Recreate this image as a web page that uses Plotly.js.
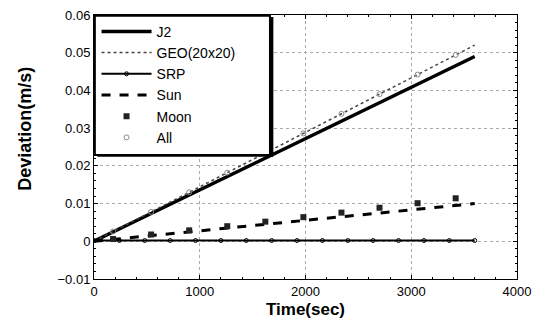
<!DOCTYPE html>
<html><head><meta charset="utf-8">
<script src="https://cdn.plot.ly/plotly-3.0.1.min.js"></script>
<style>html,body{margin:0;padding:0;background:#fff}#c{width:545px;height:322px}</style>
</head><body><div id="c"></div>
<script>
const lineTime = [0, 3600];
const j2 = [0, 0.049];
const geo = [0, 0.052];
const sunVals = [0, 0.0100];
const srpTime = [0, 240, 480, 720, 960, 1200, 1440, 1680, 1920, 2160, 2400, 2640, 2880, 3120, 3360, 3600];
const srpVals = [0.0002, 0.0002, 0.0002, 0.0002, 0.0002, 0.0002, 0.0002, 0.0002, 0.0002, 0.0002, 0.0002, 0.0002, 0.0002, 0.0002, 0.0002, 0.0002];
const moonTime = [180, 540, 900, 1260, 1620, 1980, 2340, 2700, 3060, 3420];
const moonVals = [0.0006, 0.0018, 0.0029, 0.0040, 0.0052, 0.0064, 0.0076, 0.0089, 0.0101, 0.0114];
const allTime = [180, 540, 900, 1260, 1620, 1980, 2340, 2700, 3060, 3420];
const allVals = [0.0026, 0.0078, 0.0130, 0.0182, 0.0234, 0.0286, 0.0338, 0.0390, 0.0442, 0.0494];
const names = ["J2", "GEO(20x20)", "SRP", "Sun", "Moon", "All"];
const yTitle = "<b>Deviation(m/s)</b>";
const xTitle = "<b>Time(sec)</b>";

const traces = [
  {x: lineTime, y: j2, name: names[0], mode: "lines", line: {color: "#000", width: 3.5}},
  {x: lineTime, y: geo, name: names[1], mode: "lines", line: {color: "#444", width: 1.5, dash: "dot"}},
  {x: srpTime, y: srpVals, name: names[2], mode: "lines+markers", line: {color: "#000", width: 2},
   marker: {symbol: "circle-open", size: 4, color: "#000", line: {width: 1}}},
  {x: lineTime, y: sunVals, name: names[3], mode: "lines", line: {color: "#000", width: 3, dash: "dash"}},
  {x: moonTime, y: moonVals, name: names[4], mode: "markers",
   marker: {symbol: "square", size: 6, color: "#222"}},
  {x: allTime, y: allVals, name: names[5], mode: "markers",
   marker: {symbol: "circle-open", size: 5, color: "#888", line: {width: 1}}}
];

const layout = {
  width: 545, height: 322,
  margin: {l: 94, r: 28, t: 15, b: 43},
  paper_bgcolor: "#fff", plot_bgcolor: "#fff",
  font: {family: "Liberation Sans, Arial, sans-serif", color: "#000", size: 13},
  showlegend: true,
  legend: {x: 0.006, y: 0.997, xanchor: "left", yanchor: "top", bgcolor: "rgba(0,0,0,0)",
    borderwidth: 0, font: {size: 14, family: "Liberation Sans, Arial, sans-serif"},
    itemwidth: 50},
  shapes: [
    {type: "rect", xref: "paper", yref: "paper", x0: 0.008, x1: 0.424, y0: 0.463, y1: 0.992,
     fillcolor: "#000", line: {width: 0}, layer: "above"},
    {type: "rect", xref: "paper", yref: "paper", x0: 0.002, x1: 0.416, y0: 0.47, y1: 0.997,
     fillcolor: "#fff", line: {color: "#000", width: 2}, layer: "above"}
  ],
  annotations: [
    {text: yTitle, xref: "paper", yref: "paper", x: -0.165, y: 0.57, xanchor: "center", yanchor: "middle",
     textangle: -90, showarrow: false, font: {size: 18}}
  ],
  xaxis: {range: [0, 4000], dtick: 1000, tickfont: {size: 13},
    title: {text: xTitle, font: {size: 17}, standoff: 5},
    showline: true, linecolor: "#000", linewidth: 1, mirror: "ticks",
    ticks: "inside", ticklen: 4, tickcolor: "#000",
    minor: {dtick: 200, ticks: "inside", ticklen: 2, tickcolor: "#000", showgrid: false},
    showgrid: true, gridcolor: "#aaa", griddash: "dot", gridwidth: 1, zeroline: false},
  yaxis: {range: [-0.01, 0.06], dtick: 0.01, tickfont: {size: 13},
    tickformat: "~g",
    showline: true, linecolor: "#000", linewidth: 1, mirror: "ticks",
    ticks: "inside", ticklen: 4, tickcolor: "#000",
    minor: {dtick: 0.002, ticks: "inside", ticklen: 2, tickcolor: "#000", showgrid: false},
    showgrid: true, gridcolor: "#aaa", griddash: "dot", gridwidth: 1, zeroline: false}
};
Plotly.newPlot("c", traces, layout, {displayModeBar: false, staticPlot: true});
</script></body></html>
